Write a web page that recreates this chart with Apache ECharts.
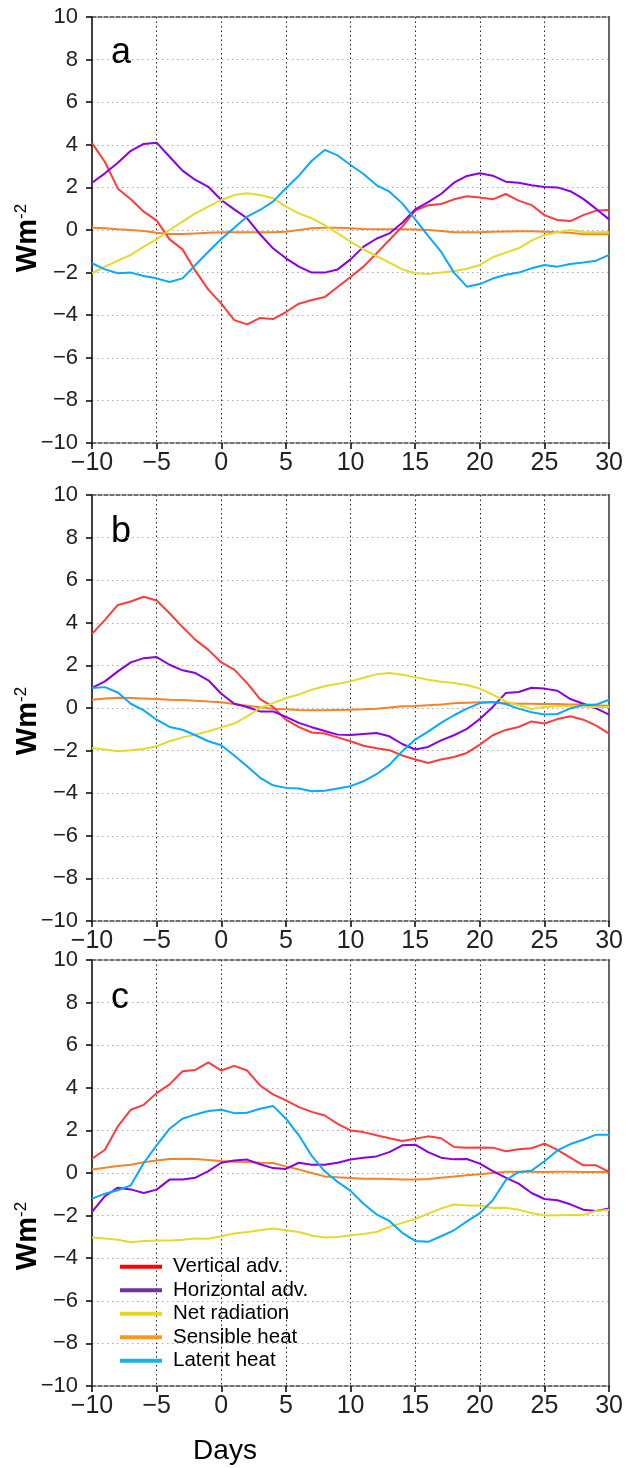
<!DOCTYPE html>
<html>
<head>
<meta charset="utf-8">
<script src="https://cdn.jsdelivr.net/npm/echarts@6/dist/echarts.min.js"></script>
<style>
html,body{margin:0;padding:0;background:#fff;}
#chart{width:626px;height:1468px;}
</style>
</head>
<body>
<div id="chart"></div>
<script>
// ---- data ----
const days = [-10,-9,-8,-7,-6,-5,-4,-3,-2,-1,0,1,2,3,4,5,6,7,8,9,10,11,12,13,14,15,16,17,18,19,20,21,22,23,24,25,26,27,28,29,30];
const seriesNames = ['Vertical adv.','Horizontal adv.','Net radiation','Sensible heat','Latent heat'];
const panelLabels = ['a','b','c'];
const xTickValues = [-10,-5,0,5,10,15,20,25,30];
const yTickValues = [-10,-8,-6,-4,-2,0,2,4,6,8,10];

// panel a
const aVertical   = [4.08,3.19,1.94,1.44,0.86,0.44,-0.44,-0.91,-1.92,-2.80,-3.46,-4.23,-4.43,-4.13,-4.18,-3.85,-3.46,-3.29,-3.15,-2.68,-2.21,-1.72,-1.10,-0.47,0.16,0.91,1.16,1.22,1.44,1.58,1.53,1.44,1.69,1.38,1.17,0.70,0.47,0.42,0.70,0.91,0.94];
const aHorizontal = [2.22,2.66,3.16,3.72,4.04,4.10,3.44,2.79,2.35,2.03,1.41,0.97,0.55,-0.20,-0.86,-1.33,-1.72,-2.00,-2.00,-1.85,-1.38,-0.78,-0.41,-0.16,0.34,0.97,1.31,1.69,2.22,2.54,2.66,2.55,2.27,2.22,2.10,2.02,2.00,1.82,1.46,0.99,0.50];
const aNetRad     = [-2.03,-1.72,-1.44,-1.17,-0.78,-0.44,0.00,0.39,0.78,1.10,1.41,1.64,1.72,1.64,1.49,1.10,0.78,0.55,0.23,-0.16,-0.55,-0.91,-1.22,-1.53,-1.85,-2.03,-2.07,-2.00,-1.94,-1.82,-1.64,-1.28,-1.06,-0.86,-0.50,-0.23,-0.11,0.00,-0.11,-0.11,-0.11];
const aSensible   = [0.11,0.08,0.03,0.00,-0.05,-0.13,-0.19,-0.19,-0.16,-0.13,-0.11,-0.11,-0.11,-0.11,-0.11,-0.08,0.00,0.08,0.11,0.10,0.08,0.05,0.03,0.03,0.03,0.02,0.00,-0.05,-0.11,-0.11,-0.10,-0.08,-0.07,-0.06,-0.06,-0.08,-0.11,-0.13,-0.20,-0.20,-0.20];
const aLatent     = [-1.56,-1.85,-2.03,-2.00,-2.16,-2.27,-2.44,-2.27,-1.64,-1.02,-0.42,0.11,0.63,0.94,1.33,1.96,2.55,3.25,3.76,3.50,3.05,2.63,2.11,1.80,1.25,0.50,-0.28,-1.02,-2.00,-2.66,-2.54,-2.28,-2.10,-2.00,-1.80,-1.64,-1.72,-1.60,-1.53,-1.44,-1.17];

// panel b
const bVertical   = [3.48,4.14,4.84,5.00,5.22,5.05,4.45,3.80,3.20,2.73,2.14,1.80,1.17,0.42,0.05,-0.55,-0.90,-1.15,-1.20,-1.38,-1.56,-1.77,-1.89,-1.98,-2.23,-2.42,-2.58,-2.42,-2.30,-2.11,-1.72,-1.28,-1.03,-0.89,-0.63,-0.73,-0.52,-0.39,-0.55,-0.83,-1.20];
const bHorizontal = [0.94,1.25,1.72,2.14,2.34,2.39,2.03,1.77,1.64,1.30,0.67,0.20,0.05,-0.16,-0.16,-0.42,-0.70,-0.90,-1.08,-1.25,-1.27,-1.22,-1.17,-1.33,-1.69,-1.95,-1.83,-1.52,-1.28,-0.98,-0.52,0.05,0.70,0.75,0.95,0.91,0.81,0.42,0.20,-0.02,-0.31];
const bNetRad     = [-1.88,-1.95,-2.03,-1.98,-1.92,-1.80,-1.56,-1.38,-1.25,-1.09,-0.91,-0.73,-0.39,0.00,0.23,0.47,0.63,0.86,1.02,1.14,1.25,1.42,1.58,1.64,1.56,1.45,1.33,1.23,1.17,1.08,0.91,0.63,0.31,0.13,-0.05,0.05,0.08,0.11,0.06,0.05,0.05];
const bSensible   = [0.39,0.45,0.48,0.47,0.45,0.42,0.39,0.38,0.34,0.30,0.27,0.19,0.11,0.03,-0.03,-0.06,-0.09,-0.11,-0.11,-0.09,-0.08,-0.06,-0.03,0.02,0.08,0.09,0.13,0.17,0.22,0.25,0.27,0.27,0.23,0.20,0.20,0.19,0.19,0.17,0.16,0.13,0.11];
const bLatent     = [0.94,0.98,0.73,0.20,-0.11,-0.55,-0.89,-1.02,-1.28,-1.56,-1.75,-2.23,-2.73,-3.28,-3.63,-3.75,-3.78,-3.91,-3.89,-3.78,-3.67,-3.44,-3.11,-2.67,-2.03,-1.48,-1.11,-0.70,-0.34,-0.03,0.23,0.28,0.19,-0.03,-0.20,-0.31,-0.28,-0.02,0.14,0.16,0.39];

// panel c
const cVertical   = [0.67,1.09,2.19,2.97,3.20,3.75,4.16,4.78,4.84,5.19,4.81,5.03,4.81,4.11,3.69,3.41,3.09,2.87,2.70,2.31,2.00,1.92,1.77,1.63,1.50,1.61,1.72,1.63,1.22,1.19,1.20,1.19,1.02,1.11,1.16,1.38,1.09,0.72,0.36,0.36,0.05];
const cHorizontal = [-1.83,-1.09,-0.69,-0.77,-0.94,-0.78,-0.31,-0.31,-0.22,0.09,0.48,0.59,0.63,0.41,0.23,0.19,0.48,0.39,0.39,0.48,0.63,0.72,0.78,0.98,1.30,1.33,0.98,0.72,0.64,0.66,0.44,0.09,-0.22,-0.50,-0.94,-1.22,-1.28,-1.47,-1.72,-1.78,-1.67];
const cNetRad     = [-3.03,-3.08,-3.13,-3.25,-3.19,-3.17,-3.17,-3.13,-3.08,-3.09,-2.97,-2.84,-2.77,-2.69,-2.61,-2.69,-2.77,-2.93,-3.03,-3.00,-2.92,-2.86,-2.77,-2.53,-2.34,-2.16,-1.91,-1.67,-1.48,-1.52,-1.53,-1.64,-1.63,-1.73,-1.88,-2.00,-1.98,-1.97,-1.97,-1.78,-1.72];
const cSensible   = [0.16,0.25,0.33,0.39,0.50,0.59,0.66,0.67,0.66,0.61,0.56,0.53,0.52,0.48,0.47,0.31,0.16,0.00,-0.16,-0.20,-0.23,-0.27,-0.27,-0.28,-0.31,-0.31,-0.28,-0.22,-0.16,-0.11,-0.06,0.00,0.06,0.06,0.06,0.05,0.06,0.06,0.05,0.05,0.05];
const cLatent     = [-1.20,-0.97,-0.81,-0.58,0.47,1.30,2.08,2.55,2.75,2.91,2.97,2.81,2.83,3.02,3.15,2.55,1.77,0.80,0.08,-0.42,-0.84,-1.44,-1.94,-2.25,-2.81,-3.19,-3.23,-2.97,-2.69,-2.27,-1.88,-1.28,-0.34,0.05,0.11,0.55,1.06,1.36,1.56,1.80,1.80];

const panels = [
  [aVertical, aHorizontal, aNetRad, aSensible, aLatent],
  [bVertical, bHorizontal, bNetRad, bSensible, bLatent],
  [cVertical, cHorizontal, cNetRad, cSensible, cLatent]
];

// ---- styling ----
const lineColors   = ['#ff3c3c','#8a00e0','#e4da2e','#f3842c','#0aa8ff'];
const legendColors = ['#ff0000','#7030a0','#e6d81e','#ff961a','#19b0ef'];
const FONT = 'Liberation Sans, Arial, sans-serif';
const gridLeft = 92, gridWidth = 518;
const gridTops = [17, 495, 960];
const gridHeight = 426;
const yNamePos = [238, 721, 1236];
const letterY = [55, 534, 1000];

const fmt = v => (v < 0 ? '\u2212' + Math.abs(v) : String(v));

const grids = [], xAxes = [], yAxes = [], series = [], graphics = [];
panels.forEach((panel, p) => {
  grids.push({left: gridLeft, top: gridTops[p], width: gridWidth, height: gridHeight, containLabel: false});
  xAxes.push({
    gridIndex: p, type: 'value', min: -10, max: 30, interval: 5, position: 'bottom',
    axisLine: {show: true, onZero: false, lineStyle: {color: '#444', width: 1.5, type: [4, 2]}},
    axisTick: {show: true, length: 6, lineStyle: {color: '#000', width: 1.5}},
    axisLabel: {show: true, fontSize: 25, color: '#222', fontFamily: FONT, margin: 8,
      showMinLabel: true, showMaxLabel: true, formatter: fmt},
    splitLine: {show: true, showMinLine: false, showMaxLine: false,
      lineStyle: {type: [1.5, 3], color: '#222', width: 1}}
  });
  xAxes.push({
    gridIndex: p, type: 'value', min: -10, max: 30, interval: 5, position: 'top',
    axisLine: {show: true, onZero: false, lineStyle: {color: '#444', width: 1.5, type: [4, 2]}},
    axisTick: {show: false}, axisLabel: {show: false}, splitLine: {show: false}
  });
  yAxes.push({
    gridIndex: p, type: 'value', min: -10, max: 10, interval: 2, position: 'left',
    axisLine: {show: true, onZero: false, lineStyle: {color: '#000', width: 1.5}},
    axisTick: {show: true, length: 6, lineStyle: {color: '#000', width: 1.5}},
    axisLabel: {show: true, fontSize: 22, color: '#222', fontFamily: FONT, margin: 14,
      showMinLabel: true, showMaxLabel: true, formatter: fmt},
    splitLine: {show: true, showMinLine: false, showMaxLine: false,
      lineStyle: {type: [1.5, 3.5], color: '#aaa', width: 1}}
  });
  yAxes.push({
    gridIndex: p, type: 'value', min: -10, max: 10, interval: 2, position: 'right',
    axisLine: {show: true, onZero: false, lineStyle: {color: '#333', width: 1.5}},
    axisTick: {show: false}, axisLabel: {show: false}, splitLine: {show: false}
  });
  panel.forEach((vals, s) => {
    series.push({
      type: 'line', name: seriesNames[s], xAxisIndex: 2 * p, yAxisIndex: 2 * p,
      data: days.map((d, i) => [d, vals[i]]),
      showSymbol: false, symbol: 'none', smooth: false,
      lineStyle: {color: lineColors[s], width: 2},
      itemStyle: {color: lineColors[s]},
      z: 3 + (s === 3 ? 0 : 1)
    });
  });
  graphics.push({
    type: 'text', left: 111, top: letterY[p] - 20,
    style: {text: panelLabels[p], font: '36px ' + FONT, fill: '#000'}
  });
  graphics.push({
    type: 'text', x: 28, y: yNamePos[p], rotation: Math.PI / 2,
    style: {
      text: '{n|Wm}{s|-2}', align: 'center', verticalAlign: 'middle',
      rich: {
        n: {fontSize: 29, fontWeight: 'bold', fontFamily: FONT, fill: '#000', lineHeight: 30},
        s: {fontSize: 17, fontFamily: FONT, fill: '#000', verticalAlign: 'top', lineHeight: 30, padding: [0, 0, 10, 0]}
      }
    }
  });
});

graphics.push({
  type: 'text', x: 225, y: 1451,
  style: {text: 'Days', font: '28px ' + FONT, fill: '#000', align: 'center', verticalAlign: 'middle'}
});

const chart = echarts.init(document.getElementById('chart'), null, {renderer: 'canvas'});
chart.setOption({
  animation: false,
  backgroundColor: '#fff',
  grid: grids,
  xAxis: xAxes,
  yAxis: yAxes,
  series: series,
  legend: {
    orient: 'vertical', left: 115, top: 1250,
    itemWidth: 42, itemHeight: 4, itemGap: 0, icon: 'rect',
    textStyle: {fontSize: 20.5, fontFamily: FONT, color: '#000', lineHeight: 23.5, padding: [0, 0, 0, 6]},
    data: seriesNames.map((n, i) => ({name: n, itemStyle: {color: legendColors[i]}}))
  },
  graphic: graphics
});
</script>
</body>
</html>
